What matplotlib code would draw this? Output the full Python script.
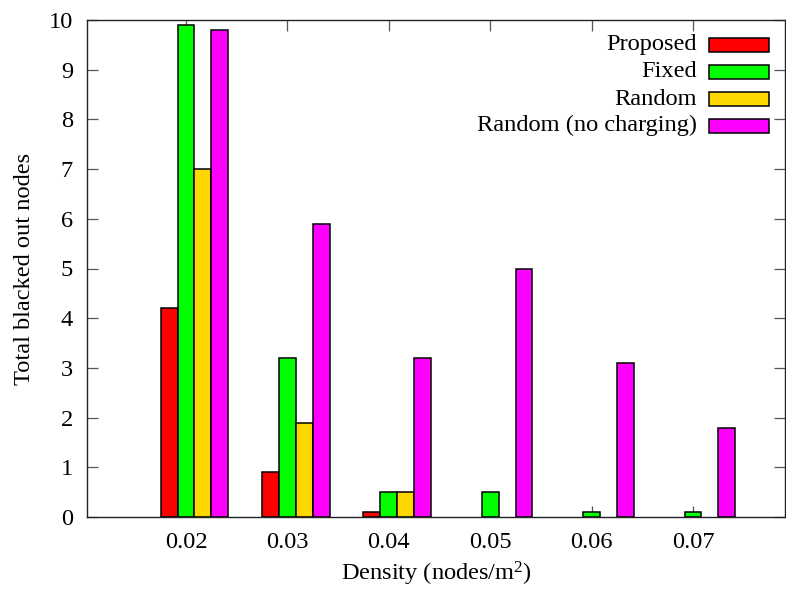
import matplotlib
matplotlib.use("Agg")
import matplotlib.pyplot as plt
from matplotlib.patches import Rectangle
import numpy as np

plt.rcParams['font.family'] = ['Liberation Serif', 'DejaVu Serif']
plt.rcParams['mathtext.fontset'] = 'custom'
plt.rcParams['mathtext.rm'] = 'Liberation Serif'
plt.rcParams['mathtext.it'] = 'Liberation Serif:italic'

densities = ["0.02", "0.03", "0.04", "0.05", "0.06", "0.07"]
series_names = ["Proposed", "Fixed", "Random", "Random (no charging)"]
proposed = [4.2, 0.9, 0.1, 0.0, 0.0, 0.0]
fixed = [9.9, 3.2, 0.5, 0.5, 0.1, 0.1]
random_ = [7.0, 1.9, 0.5, 0.0, 0.0, 0.0]
random_nc = [9.8, 5.9, 3.2, 5.0, 3.1, 1.8]
colors = ["#ff0000", "#00ff00", "#ffd700", "#ff00ff"]

fs = 17.6
fig = plt.figure(figsize=(7.86, 5.95), dpi=100)
ax = fig.add_axes([87 / 786, 78 / 595, 698 / 786, 497 / 595])

x = np.arange(len(densities))
w = 1.0 / 6.0
offsets = [-1, 0, 1, 2]
for vals, off, col in zip([proposed, fixed, random_, random_nc], offsets, colors):
    # empty bars get no outline so nothing shows along the baseline
    lws = [1.1 if v > 0 else 0.0 for v in vals]
    ax.bar(x + off * w, vals, width=w, color=col, edgecolor='black',
           linewidth=lws, zorder=2)

ax.set_xlim(-0.976, 5.907)
ax.set_ylim(0, 10)
ax.set_xticks(x)
ax.set_xticklabels(densities, fontsize=fs)
ax.set_yticks(range(0, 11))
ax.set_yticklabels([str(v) for v in range(0, 11)], fontsize=fs)
ax.tick_params(axis='both', direction='in', length=8, width=0.9,
               color='#555555', top=True, right=True)
ax.tick_params(axis='x', pad=11)
ax.tick_params(axis='y', pad=10)
for s in ax.spines.values():
    s.set_linewidth(1.0)
    s.set_color('#222222')
    s.set_zorder(3)

ax.set_xlabel("Density (nodes/m$^{2}$)", fontsize=fs, labelpad=5)
ax.set_ylabel("Total blacked out nodes", fontsize=fs, labelpad=10)

# key in the upper right corner
row_y = [0.9497, 0.8954, 0.841, 0.7877]
for name, col, yy in zip(series_names, colors, row_y):
    ax.text(0.874, yy, name, transform=ax.transAxes, ha='right', va='center',
            fontsize=fs)
    ax.add_patch(Rectangle((0.891, yy - 0.0141), 0.086, 0.0282,
                           transform=ax.transAxes, facecolor=col,
                           edgecolor='black', linewidth=1.1, zorder=4))

fig.savefig("out.png", dpi=100)
